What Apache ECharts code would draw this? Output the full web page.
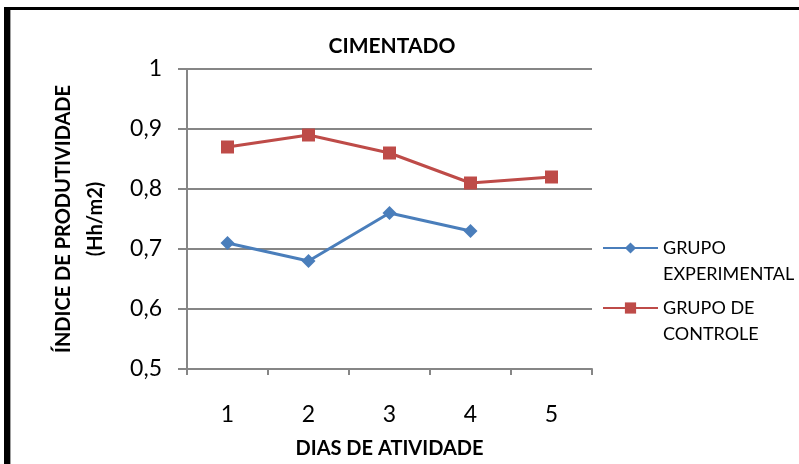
<!DOCTYPE html>
<html>
<head>
<meta charset="utf-8">
<script src="https://cdn.jsdelivr.net/npm/echarts@6/dist/echarts.min.js"></script>
<style>
  html, body { margin: 0; padding: 0; background: #fff; }
  #chart { width: 799px; height: 464px; }
</style>
</head>
<body>
<div id="chart"></div>
<script>
// Productivity index per day of activity (cemented work)
const days = ['1', '2', '3', '4', '5'];
const grupoExperimental = [0.71, 0.68, 0.76, 0.73, null];
const grupoControle = [0.87, 0.89, 0.86, 0.81, 0.82];
const yTicks = { min: 0.5, max: 1, interval: 0.1 };

const FONT = 'Lato, "Open Sans", sans-serif';
const AXIS_GRAY = '#868686';

const chart = echarts.init(document.getElementById('chart'), null, { renderer: 'canvas' });

chart.setOption({
  animation: false,
  backgroundColor: '#fff',
  textStyle: { fontFamily: FONT },
  title: {
    text: 'CIMENTADO',
    left: 392,
    textAlign: 'center',
    top: 36,
    padding: 0,
    textStyle: { fontFamily: FONT, fontSize: 21, fontWeight: 'bold', color: '#000' }
  },
  grid: { left: 187, right: 207, top: 69, bottom: 94, containLabel: false },
  legend: {
    orient: 'vertical',
    left: 602,
    top: 235,
    padding: 0,
    itemWidth: 55,
    itemHeight: 14,
    itemGap: 12,
    itemTextGap: 5,
    // first line sits level with the legend icon, second line hangs below it
    formatter: name => {
      const parts = name.split('\n');
      return '{first|' + parts[0] + '}\n{rest|' + parts.slice(1).join(' ') + '}';
    },
    textStyle: {
      fontFamily: FONT, fontSize: 18, color: '#000',
      rich: {
        first: { fontFamily: FONT, fontSize: 18, color: '#000', lineHeight: 52, height: 26, verticalAlign: 'bottom' },
        rest: { fontFamily: FONT, fontSize: 18, color: '#000', lineHeight: 26 }
      }
    },
    data: [
      { name: 'GRUPO\nEXPERIMENTAL' },
      { name: 'GRUPO DE\nCONTROLE' }
    ]
  },
  xAxis: {
    type: 'category',
    data: days,
    boundaryGap: true,
    name: 'DIAS DE ATIVIDADE',
    nameLocation: 'middle',
    nameGap: 70,
    nameTextStyle: { fontFamily: FONT, fontSize: 20, fontWeight: 'bold', color: '#000' },
    axisLine: { lineStyle: { color: AXIS_GRAY, width: 2 } },
    axisTick: { show: true, inside: false, length: 6, lineStyle: { color: AXIS_GRAY, width: 2 } },
    axisLabel: { fontFamily: FONT, fontSize: 23, color: '#000', margin: 34 }
  },
  yAxis: {
    type: 'value',
    min: yTicks.min,
    max: yTicks.max,
    interval: yTicks.interval,
    name: 'ÍNDICE DE PRODUTIVIDADE\n(Hh/m2)',
    nameLocation: 'middle',
    nameRotate: 90,
    nameGap: 75,
    nameTextStyle: { fontFamily: FONT, fontSize: 20, fontWeight: 'bold', color: '#000', lineHeight: 32 },
    axisLine: { show: true, lineStyle: { color: AXIS_GRAY, width: 2 } },
    axisTick: { show: true, inside: false, length: 9, lineStyle: { color: AXIS_GRAY, width: 2 } },
    axisLabel: {
      fontFamily: FONT, fontSize: 23, color: '#000', margin: 25,
      formatter: v => (Math.round(v * 10) / 10).toString().replace('.', ',')
    },
    splitLine: { show: true, lineStyle: { color: AXIS_GRAY, width: 2 } }
  },
  series: [
    {
      name: 'GRUPO\nEXPERIMENTAL',
      type: 'line',
      data: grupoExperimental,
      symbol: 'diamond',
      symbolSize: 14,
      connectNulls: false,
      itemStyle: { color: '#4A7EBB' },
      lineStyle: { color: '#4A7EBB', width: 3 }
    },
    {
      name: 'GRUPO DE\nCONTROLE',
      type: 'line',
      data: grupoControle,
      symbol: 'rect',
      symbolSize: 13,
      itemStyle: { color: '#BE4B48' },
      lineStyle: { color: '#BE4B48', width: 3 }
    }
  ],
  graphic: [
    { type: 'rect', shape: { x: 4, y: 7, width: 6, height: 460 }, style: { fill: '#000' }, silent: true },
    { type: 'rect', shape: { x: 4, y: 7, width: 800, height: 3 }, style: { fill: '#000' }, silent: true },
    { type: 'rect', shape: { x: 10, y: 10, width: 1, height: 460 }, style: { fill: '#a0a0a0' }, silent: true }
  ]
});
</script>
</body>
</html>
